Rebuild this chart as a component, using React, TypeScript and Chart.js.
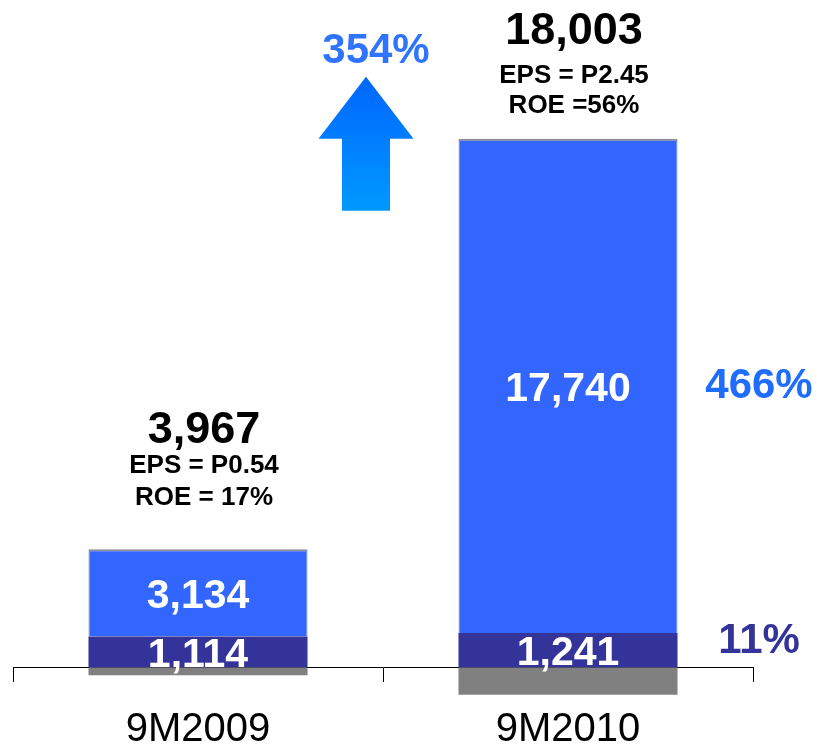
import React, { useEffect, useRef } from 'react';
import { Chart, registerables } from 'chart.js';

Chart.register(...registerables);

// ---- data ----
const categories = ['9M2009', '9M2010'];
const coreValues = [3134, 17740];      // bright blue segment
const otherValues = [1114, 1241];      // dark blue segment
const deductionValues = [-281, -978];  // grey (negative) segment
const totalLabels = ['3,967', '18,003'];
const epsLabels = ['EPS = P0.54', 'EPS = P2.45'];
const roeLabels = ['ROE = 17%', 'ROE =56%'];
const totalGrowth = '354%';
const coreGrowth = '466%';
const otherGrowth = '11%';

// ---- style ----
const FONT = "'Liberation Sans', Arial, Helvetica, sans-serif";
const BLUE = '#3366FF';
const DARK = '#333399';
const GREY = '#808080';
const GROWTH_BLUE = '#1f6dff';
const Y_MIN = -2603;
const Y_MAX = 23604;
// baseline offsets (px) of total / EPS / ROE texts above the bar top
const headerOffsets = [
  [-106, -76, -44],
  [-95, -56, -26],
];

const labelPlugin = {
  id: 'labels',
  afterDraw(chart: any) {
    const ctx = chart.ctx;
    const area = chart.chartArea;
    const mGrey = chart.getDatasetMeta(0);
    const mDark = chart.getDatasetMeta(1);
    const mBlue = chart.getDatasetMeta(2);
    ctx.save();
    ctx.textAlign = 'center';
    ctx.textBaseline = 'alphabetic';

    categories.forEach((_, i) => {
      const blue = mBlue.data[i] as any;
      const dark = mDark.data[i] as any;
      // white values inside segments
      ctx.fillStyle = '#ffffff';
      ctx.font = `bold 41px ${FONT}`;
      const bc = (blue.y + blue.base) / 2;
      ctx.fillText(coreValues[i].toLocaleString('en-US'), blue.x, bc + 0.36 * 41);
      const dc = (dark.y + dark.base) / 2;
      ctx.fillText(otherValues[i].toLocaleString('en-US'), dark.x, dc + 0.36 * 41);

      // headers above bars
      const top = blue.y;
      const off = headerOffsets[i];
      const cx = blue.x + 6;
      ctx.fillStyle = '#000000';
      ctx.font = `bold 45px ${FONT}`;
      ctx.fillText(totalLabels[i], cx, top + off[0]);
      ctx.font = `bold 26px ${FONT}`;
      ctx.fillText(epsLabels[i], cx, top + off[1]);
      ctx.fillText(roeLabels[i], cx, top + off[2]);
    });

    // growth labels on the right of the second bar
    const blue2 = mBlue.data[1] as any;
    const dark2 = mDark.data[1] as any;
    const rx = area.right + 6;
    ctx.font = `bold 42px ${FONT}`;
    ctx.fillStyle = GROWTH_BLUE;
    ctx.fillText(coreGrowth, rx, (blue2.y + blue2.base) / 2 + 12);
    ctx.fillStyle = DARK;
    ctx.fillText(otherGrowth, rx, dark2.y + 20);

    // arrow between the bars
    const xs = chart.scales.x;
    const boundary = (xs.getPixelForValue(0) + xs.getPixelForValue(1)) / 2;
    const ax = boundary - 17;
    const baseY = blue2.y;
    const apexY = baseY - 62;
    const shaftBottom = baseY + 72;
    const grad = ctx.createLinearGradient(0, apexY, 0, shaftBottom);
    grad.addColorStop(0, '#0066FF');
    grad.addColorStop(1, '#0099FF');
    ctx.fillStyle = grad;
    ctx.beginPath();
    ctx.moveTo(ax, apexY);
    ctx.lineTo(ax + 47.5, baseY);
    ctx.lineTo(ax + 24, baseY);
    ctx.lineTo(ax + 24, shaftBottom);
    ctx.lineTo(ax - 24, shaftBottom);
    ctx.lineTo(ax - 24, baseY);
    ctx.lineTo(ax - 47.5, baseY);
    ctx.closePath();
    ctx.fill();

    ctx.font = `bold 42px ${FONT}`;
    ctx.fillStyle = '#2f74ff';
    ctx.fillText(totalGrowth, ax + 10, apexY - 14);
    ctx.restore();
  },
};

export default function App() {
  const ref = useRef<HTMLCanvasElement | null>(null);

  useEffect(() => {
    if (!ref.current) return;
    const chart = new Chart(ref.current, {
      type: 'bar',
      data: {
        labels: categories,
        datasets: [
          {
            label: 'Deductions',
            data: deductionValues,
            backgroundColor: GREY,
            borderWidth: 0,
          },
          {
            label: 'Other',
            data: otherValues,
            backgroundColor: DARK,
            borderWidth: 0,
          },
          {
            label: 'Core',
            data: coreValues,
            backgroundColor: BLUE,
            borderColor: '#8a8a9a',
            borderWidth: { top: 2, left: 1, right: 1, bottom: 0 },
            borderSkipped: false,
          },
        ],
      },
      options: {
        responsive: false,
        animation: false,
        events: [],
        layout: { padding: { left: 13, right: 64, top: 10, bottom: 10 } },
        datasets: {
          bar: { categoryPercentage: 1, barPercentage: 0.592 },
        },
        plugins: {
          legend: { display: false },
          tooltip: { enabled: false },
        },
        scales: {
          x: {
            stacked: true,
            position: { y: 0 } as any,
            z: 1,
            grid: {
              display: true,
              drawOnChartArea: false,
              drawTicks: true,
              tickLength: 14,
              color: '#000000',
              offset: true,
            },
            border: { display: true, color: '#000000', width: 1 },
            ticks: {
              color: '#000000',
              padding: 24,
              font: { size: 40, family: FONT },
            },
          },
          y: {
            stacked: true,
            display: false,
            min: Y_MIN,
            max: Y_MAX,
          },
        },
      },
      plugins: [labelPlugin],
    });
    return () => chart.destroy();
  }, []);

  return (
    <div style={{ position: 'absolute', left: 0, top: 0, width: 817, height: 750, background: '#ffffff' }}>
      <canvas ref={ref} width={817} height={750} />
    </div>
  );
}
